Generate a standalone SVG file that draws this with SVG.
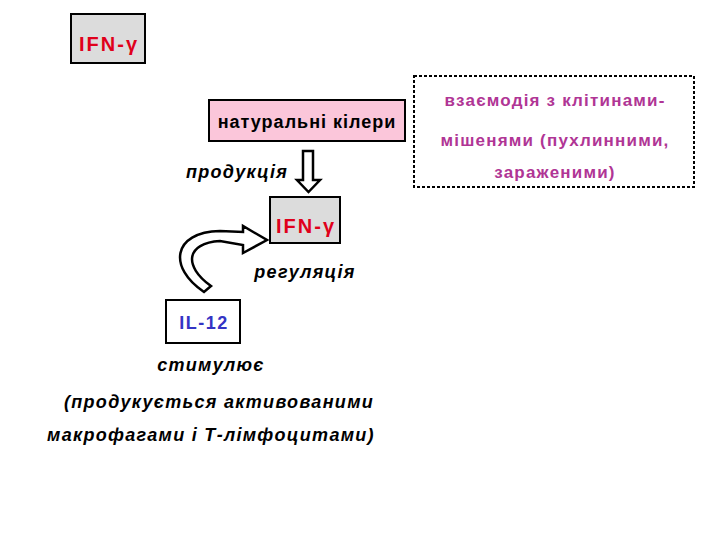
<svg xmlns="http://www.w3.org/2000/svg" width="720" height="540" viewBox="0 0 720 540">
<style>
.t{font-family:"Liberation Sans",Arial,sans-serif;font-weight:bold}
.it{font-family:"Liberation Sans",Arial,sans-serif;font-weight:bold;font-style:italic;font-size:18px;fill:#000;letter-spacing:1.3px}
.red{fill:#e0001b;font-size:20px;letter-spacing:2px}
.mag{fill:#b03595;font-size:17px;letter-spacing:1.2px}
.hollow{fill:#fff;stroke:#000;stroke-width:2.5;stroke-linejoin:miter}
</style>
<rect width="720" height="540" fill="#fff"/>
<g id="ifn-top">
<rect x="71" y="14" width="74" height="49" fill="#dcdcdc" stroke="#000" stroke-width="2"/>
<text class="t red" x="109" y="51" text-anchor="middle">IFN-γ</text>
</g>
<g id="nk">
<rect x="209" y="100" width="196" height="41" fill="#fbc6da" stroke="#000" stroke-width="2"/>
<text class="t" x="307" y="128" font-size="18" letter-spacing="1" text-anchor="middle">натуральні кілери</text>
</g>
<g id="targets">
<rect x="414" y="76" width="280" height="111" fill="#fff" stroke="#000" stroke-width="2" stroke-dasharray="3,2"/>
<text class="t mag" x="555" y="106" text-anchor="middle">взаємодія з клітинами-</text>
<text class="t mag" x="555" y="146" text-anchor="middle">мішенями (пухлинними,</text>
<text class="t mag" x="555" y="178" text-anchor="middle">зараженими)</text>
</g>
<g id="ifn-mid">
<rect x="270" y="197" width="70" height="46" fill="#dcdcdc" stroke="#000" stroke-width="2"/>
<text class="t red" x="306" y="233" text-anchor="middle">IFN-γ</text>
</g>
<g id="il12">
<rect x="166" y="300" width="74" height="43" fill="#fff" stroke="#000" stroke-width="2"/>
<text class="t" x="204" y="329" font-size="18" letter-spacing="1.5" fill="#3434c4" text-anchor="middle">IL-12</text>
</g>
<g id="labels">
<text class="it" x="237" y="178" text-anchor="middle">продукція</text>
<text class="it" x="305" y="278" text-anchor="middle">регуляція</text>
<text class="it" x="211" y="371" text-anchor="middle">стимулює</text>
<text class="it" x="219" y="408" text-anchor="middle" letter-spacing="1.6">(продукується активованими</text>
<text class="it" x="211" y="441" text-anchor="middle" letter-spacing="1.4">макрофагами і Т-лімфоцитами)</text>
</g>
<g id="connectors">
<path class="hollow" d="M303 151 L313 151 L313 180 L320 180 L308.5 192 L297 180 L303 180 Z"/>
<path class="hollow" d="M204 292 C168 268 172 232 220 231 L243 232 L243 226 L267 240 L243 253 L243 245 L220 241 C186 243 183 266 211 286 Z"/>
</g>
</svg>
